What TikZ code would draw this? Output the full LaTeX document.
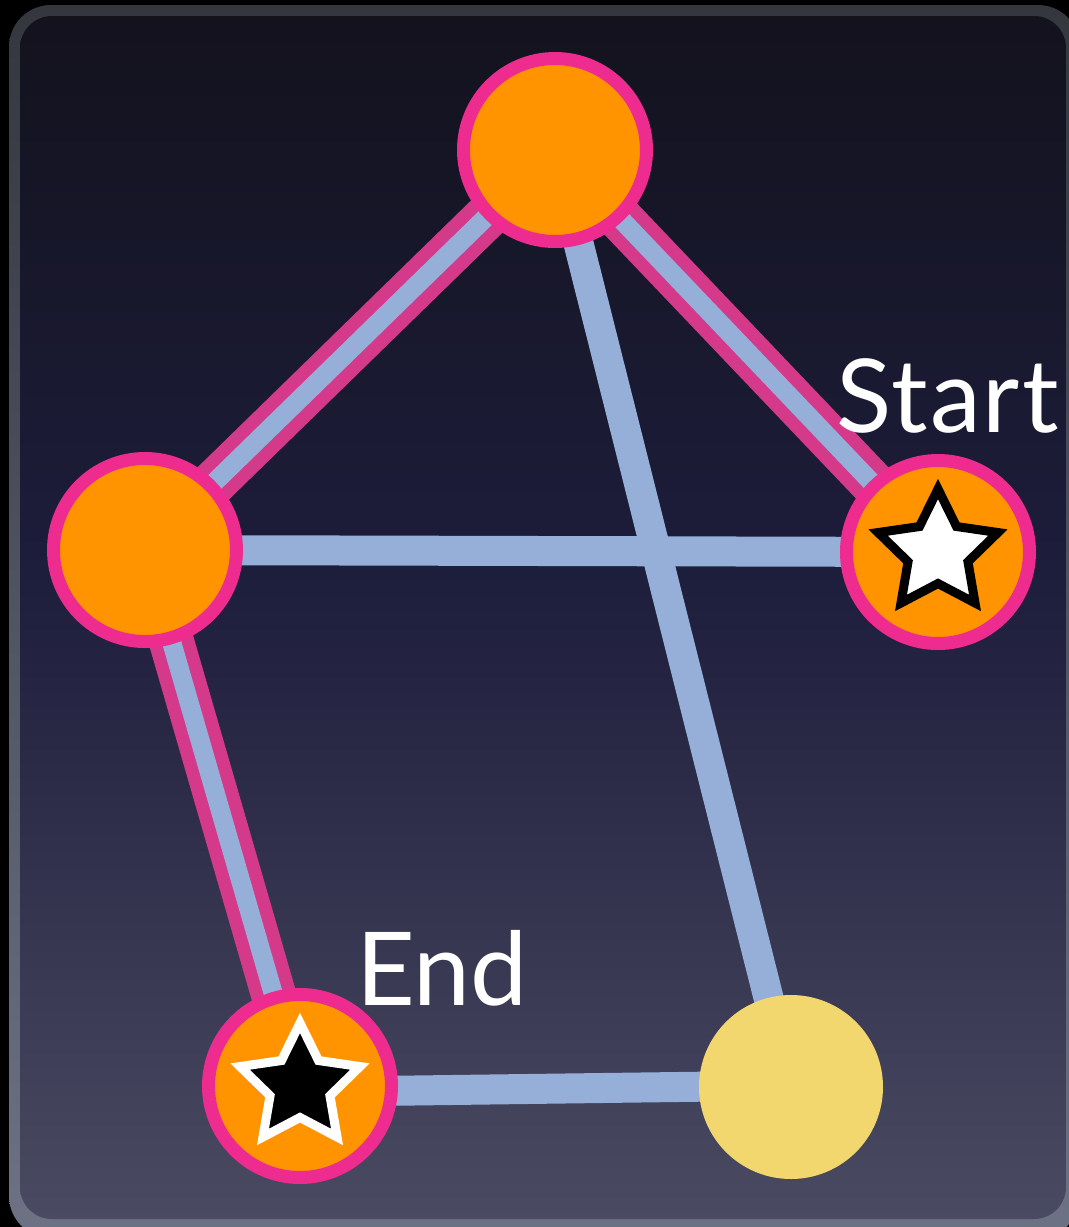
\documentclass[tikz,border=0pt]{standalone}
\usepackage{fontspec}
\setmainfont{Lato}
\definecolor{bgtop}{HTML}{13121D}
\definecolor{bgmid}{HTML}{1D1D3C}
\definecolor{bgbot}{HTML}{4A4A62}
\definecolor{brtop}{HTML}{34373E}
\definecolor{brbot}{HTML}{6E7285}
\definecolor{vorange}{HTML}{FF9400}
\definecolor{ringpink}{HTML}{EE2B8E}
\definecolor{edgepink}{HTML}{D4398A}
\definecolor{edgeblue}{HTML}{95AFD9}
\definecolor{vgold}{HTML}{F2D66E}
\pgfdeclareverticalshading{bgshade}{100bp}{color(0bp)=(bgbot); color(25bp)=(bgbot); color(52bp)=(bgmid); color(75bp)=(bgtop); color(100bp)=(bgtop)}
\pgfdeclareverticalshading{brshade}{100bp}{color(0bp)=(brbot); color(25bp)=(brbot); color(75bp)=(brtop); color(100bp)=(brtop)}
\pgfdeclarelayer{bg}
\pgfdeclarelayer{edges}
\pgfsetlayers{bg,edges,main}
\tikzset{
  vtx/.style={circle, draw=ringpink, line width=6.5pt, fill=vorange, minimum size=91.5pt, inner sep=0pt},
  goldvtx/.style={circle, fill=vgold, minimum size=92pt, inner sep=0pt},
  plainedge/.style={draw=edgeblue, line width=15pt},
  hlout/.style={draw=edgepink, line width=22.5pt},
  hlin/.style={draw=edgeblue, line width=9.5pt},
  lbl/.style={text=white, font=\fontsize{51}{60}\selectfont, inner sep=0pt, anchor=base west},
  whitestar/.style={fill=white, draw=black, line width=4.5pt, miter limit=10},
  blackstar/.style={fill=black, draw=white, line width=4.5pt, miter limit=10}
}
\begin{document}
\begin{tikzpicture}[x=0.5pt,y=-0.5pt]
\useasboundingbox (0,0) rectangle (1069,1227);
\begin{pgfonlayer}{bg}
  \fill[black] (0,0) rectangle (1069,1227);
  \shade[shading=brshade, rounded corners=21pt] (9,5) rectangle (1080,1238);
  \shade[shading=bgshade, rounded corners=16pt] (20,16) rectangle (1066,1219);
\end{pgfonlayer}

\node[vtx] (top) at (555,150) {};
\node[vtx] (left) at (145,550) {};
\node[vtx] (start) at (938,552) {};
\node[vtx] (end) at (300,1086) {};
\node[goldvtx] (gold) at (791,1087) {};

\begin{pgfonlayer}{edges}
  \draw[plainedge] (top.center) -- (gold.center);
  \draw[plainedge] (left.center) -- (start.center);
  \draw[plainedge] ([yshift=-3pt]end.center) -- ([yshift=0.75pt]gold.center);
  \draw[hlout] (top.center) -- (left.center);
  \draw[hlout] (top.center) -- (start.center);
  \draw[hlout] (left.center) -- (end.center);
  \draw[hlin] (top.center) -- (left.center);
  \draw[hlin] (top.center) -- (start.center);
  \draw[hlin] (left.center) -- (end.center);
\end{pgfonlayer}

\draw[whitestar] ([shift={(-90:63)}]start.center)
  \foreach \a/\r in {-54/31.5, -18/63, 18/31.5, 54/63, 90/31.5, 126/63, 162/31.5, 198/63, 234/31.5} { -- ([shift={(\a:\r)}]start.center) } -- cycle;
\draw[blackstar] ([shift={(-90:63)}]end.center)
  \foreach \a/\r in {-54/31.5, -18/63, 18/31.5, 54/63, 90/31.5, 126/63, 162/31.5, 198/63, 234/31.5} { -- ([shift={(\a:\r)}]end.center) } -- cycle;

\node[lbl] (startlbl) at (836,432) {\addfontfeature{LetterSpace=2}Start};
\node[lbl] (endlbl) at (356,1005) {End};
\end{tikzpicture}
\end{document}
